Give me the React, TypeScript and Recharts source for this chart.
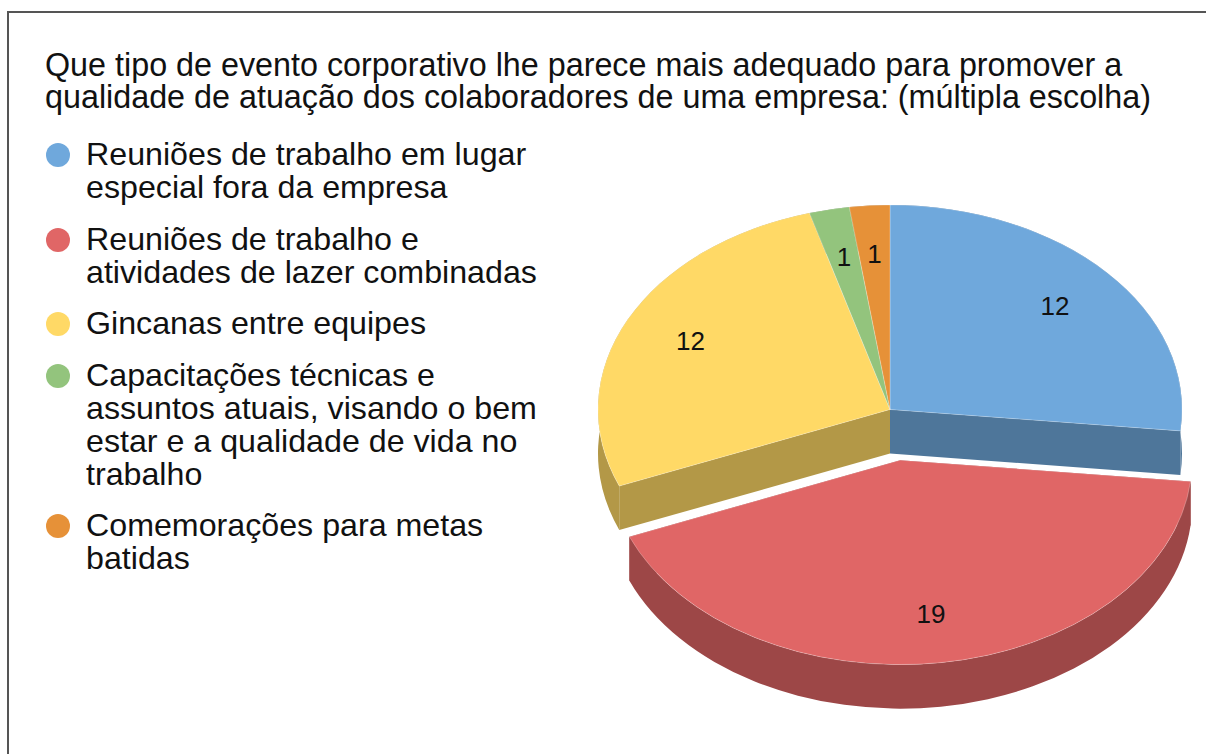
import { PieChart, Pie, Legend } from 'recharts';

const categories = [
  'Reuniões de trabalho em lugar especial fora da empresa',
  'Reuniões de trabalho e atividades de lazer combinadas',
  'Gincanas entre equipes',
  'Capacitações técnicas e assuntos atuais, visando o bem estar e a qualidade de vida no trabalho',
  'Comemorações para metas batidas',
];
const values = [12, 19, 12, 1, 1];
const colors = ['#6fa8dc', '#e06666', '#ffd966', '#93c47d', '#e69138'];
const titleLines = [
  'Que tipo de evento corporativo lhe parece mais adequado para promover a',
  'qualidade de atuação dos colaboradores de uma empresa: (múltipla escolha)',
];

const data = categories.map((name, i) => ({ name, value: values[i], fill: colors[i] }));

const FONT = '"Liberation Sans", Arial, sans-serif';
const CX = 890;
const CY = 409.5;
const RX = 292;
const SQUASH = 204.5 / 292; // tilt of the pie
const DEPTH = 44;
const EXPLODED = categories[1];
const EXPLODE = 0.25;
const RAD = Math.PI / 180;

// colour of the side walls
const darken = (hex: string) => {
  const n = parseInt(hex.slice(1), 16);
  const c = [(n >> 16) & 255, (n >> 8) & 255, n & 255].map((v) => Math.round(v * 0.7));
  return `rgb(${c.join(',')})`;
};

const getCenter = (p: any) => {
  const mid = ((p.startAngle + p.endAngle) / 2) * RAD;
  const k = p.name === EXPLODED ? EXPLODE : 0;
  return {
    x: p.cx + k * p.outerRadius * Math.cos(mid),
    y: p.cy - k * p.outerRadius * SQUASH * Math.sin(mid),
  };
};

const rimPoint = (c: { x: number; y: number }, r: number, angle: number, dy = 0) => ({
  x: c.x + r * Math.cos(angle * RAD),
  y: c.y - r * SQUASH * Math.sin(angle * RAD) + dy,
});

const arcTo = (r: number, to: { x: number; y: number }, large: boolean, sweep: number) =>
  `A ${r} ${r * SQUASH} 0 ${large ? 1 : 0} ${sweep} ${to.x} ${to.y}`;

const topPath = (c: any, r: number, a0: number, a1: number) => {
  const s = rimPoint(c, r, a0);
  const e = rimPoint(c, r, a1);
  return `M ${c.x} ${c.y} L ${s.x} ${s.y} ${arcTo(r, e, Math.abs(a0 - a1) > 180, 1)} Z`;
};

// the cut face along a radius, only the ones that look towards the viewer
const CutFace = ({ c, r, angle, fill }: any) => {
  const a = rimPoint(c, r, angle);
  if (a.y <= c.y) return null;
  const b = rimPoint(c, r, angle, DEPTH);
  return <path d={`M ${c.x} ${c.y} L ${a.x} ${a.y} L ${b.x} ${b.y} L ${c.x} ${c.y + DEPTH} Z`} fill={fill} />;
};

const WallSector = (p: any) => {
  const c = getCenter(p);
  const r = p.outerRadius;
  const s = rimPoint(c, r, p.startAngle);
  const e = rimPoint(c, r, p.endAngle);
  const s2 = rimPoint(c, r, p.startAngle, DEPTH);
  const e2 = rimPoint(c, r, p.endAngle, DEPTH);
  const large = Math.abs(p.startAngle - p.endAngle) > 180;
  const wall = darken(p.fill);
  return (
    <g>
      <CutFace c={c} r={r} angle={p.startAngle} fill={wall} />
      <CutFace c={c} r={r} angle={p.endAngle} fill={wall} />
      <path
        d={`M ${s.x} ${s.y} ${arcTo(r, e, large, 1)} L ${e2.x} ${e2.y} ${arcTo(r, s2, large, 0)} Z`}
        fill={wall}
      />
    </g>
  );
};

const TopSector = (p: any) => (
  <path
    d={topPath(getCenter(p), p.outerRadius, p.startAngle, p.endAngle)}
    fill={p.fill}
    stroke="#fff"
    strokeOpacity={0.25}
  />
);

const renderLabel = (p: any) => {
  const c = getCenter({ ...p, name: p.name ?? p.payload?.name });
  const at = rimPoint(c, p.outerRadius * 0.76, p.midAngle);
  return (
    <text
      x={at.x}
      y={at.y}
      fill="#111"
      textAnchor="middle"
      dominantBaseline="central"
      fontFamily={FONT}
      fontSize={26}
    >
      {p.value}
    </text>
  );
};

const renderLegend = ({ payload }: any) => (
  <div style={{ fontFamily: FONT, fontSize: 32.2, lineHeight: '33px', color: '#111', textAlign: 'left' }}>
    {(payload || [])
      .filter((item: any) => item.type !== 'none')
      .map((item: any) => (
        <div key={item.value} style={{ display: 'flex', marginBottom: 18.6 }}>
          <span
            style={{
              flex: 'none',
              width: 24,
              height: 24,
              marginTop: 5,
              marginRight: 16,
              borderRadius: '50%',
              background: item.color,
            }}
          />
          <span style={{ width: 460 }}>{item.value}</span>
        </div>
      ))}
  </div>
);

export default function App() {
  return (
    <div
      style={{
        position: 'fixed',
        left: 0,
        top: 0,
        width: 1206,
        height: 754,
        overflow: 'hidden',
        background: '#fff',
      }}
    >
      {/* tail of the text above the frame, cut off by the screenshot */}
      <div
        style={{
          position: 'absolute',
          left: 12,
          top: -25,
          fontFamily: FONT,
          fontSize: 27,
          lineHeight: '30px',
          color: '#777',
        }}
      >
        colaboradores:
      </div>
      <div
        style={{
          position: 'absolute',
          left: 7,
          top: 11,
          width: 1210,
          height: 760,
          borderTop: '2px solid #555',
          borderLeft: '2px solid #555',
        }}
      />
      <div
        style={{
          position: 'absolute',
          left: 45,
          top: 49,
          fontFamily: FONT,
          fontSize: 32.3,
          lineHeight: '32px',
          color: '#111',
          whiteSpace: 'nowrap',
        }}
      >
        {titleLines.map((line) => (
          <div key={line}>{line}</div>
        ))}
      </div>
      <div style={{ position: 'absolute', left: 0, top: 0 }}>
        <PieChart width={1206} height={754} margin={{ top: 0, right: 0, bottom: 0, left: 0 }}>
          <Legend
            layout="horizontal"
            align="center"
            verticalAlign="middle"
            itemSorter={null}
            content={renderLegend}
            wrapperStyle={{ left: 46, top: 138, width: 510 }}
          />
          <Pie
            data={data}
            dataKey="value"
            nameKey="name"
            cx={CX}
            cy={CY}
            outerRadius={RX}
            startAngle={90}
            endAngle={-270}
            stroke="none"
            legendType="none"
            shape={WallSector}
            isAnimationActive={false}
          />
          <Pie
            data={data}
            dataKey="value"
            nameKey="name"
            cx={CX}
            cy={CY}
            outerRadius={RX}
            startAngle={90}
            endAngle={-270}
            stroke="none"
            shape={TopSector}
            label={renderLabel}
            labelLine={false}
            isAnimationActive={false}
          />
        </PieChart>
      </div>
    </div>
  );
}
